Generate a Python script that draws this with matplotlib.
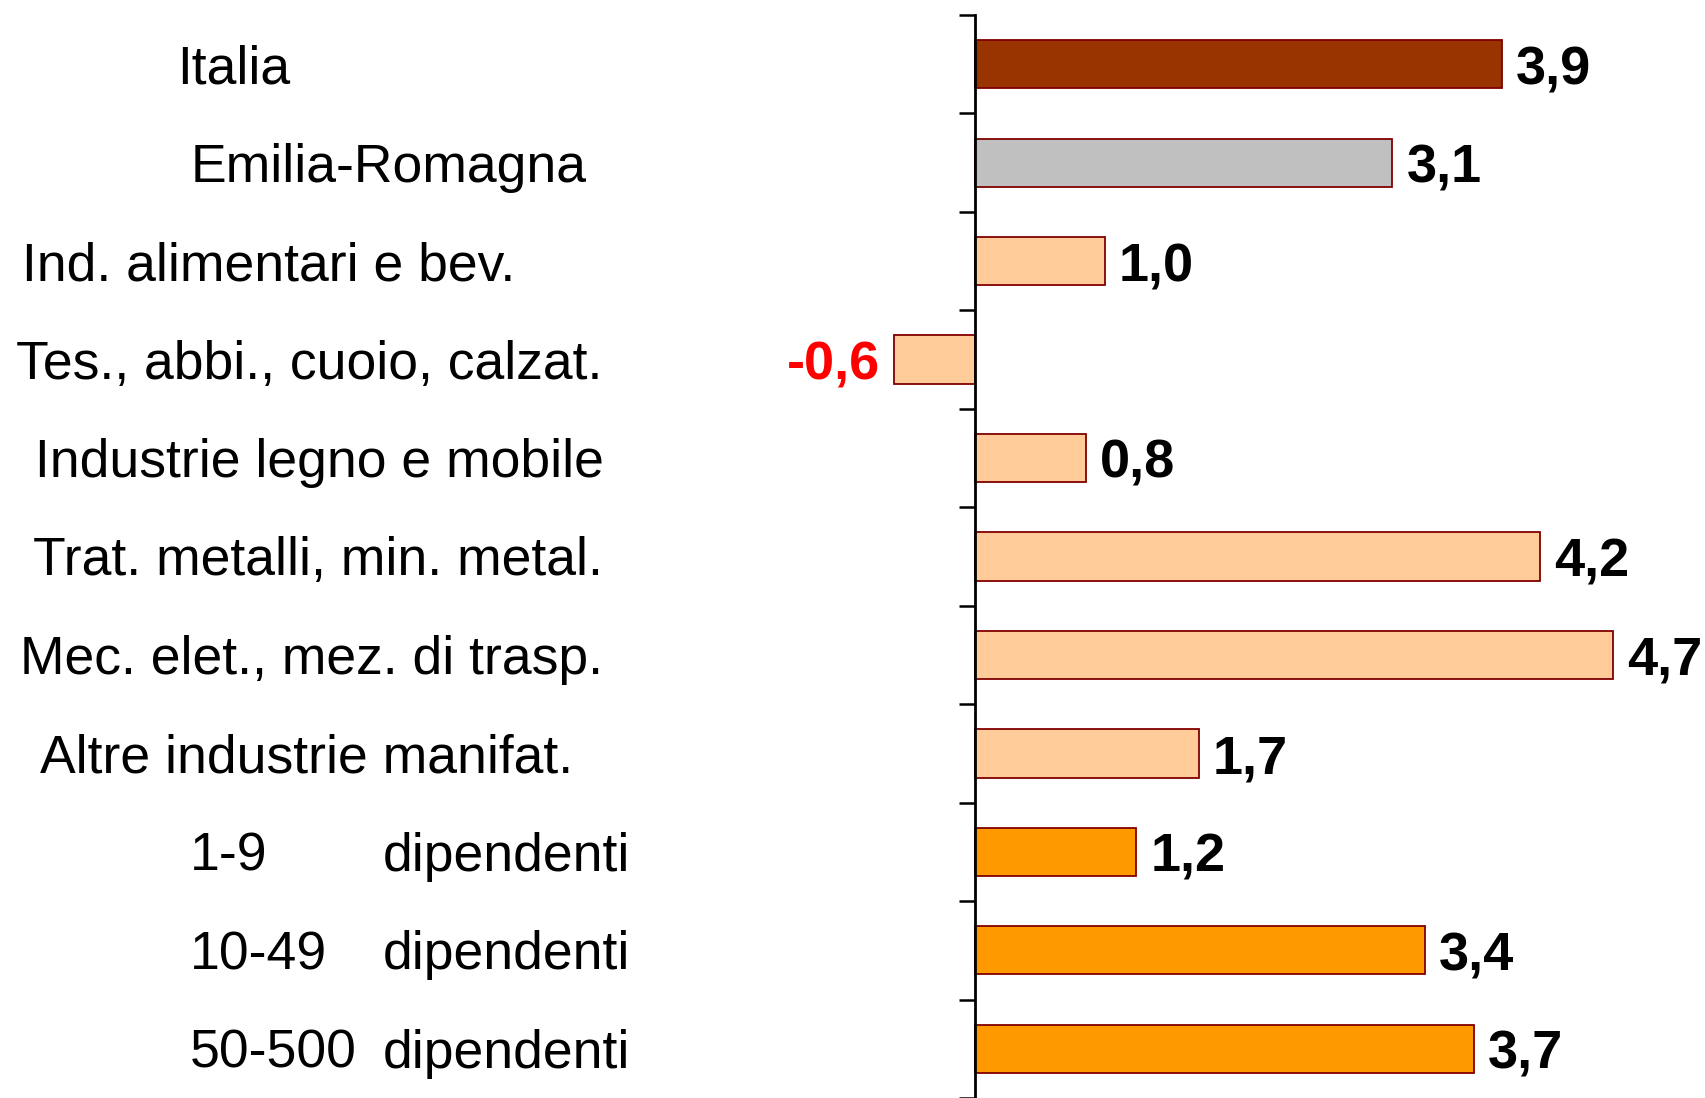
import matplotlib.pyplot as plt
import matplotlib.transforms as mtransforms

# -----------------------------------------------------------------------------
# Data
# -----------------------------------------------------------------------------

categories = ['Italia', 'Emilia-Romagna', 'Ind. alimentari e bev.',
              'Tes., abbi., cuoio, calzat.', 'Industrie legno e mobile',
              'Trat. metalli, min. metal.', 'Mec. elet., mez. di trasp.',
              'Altre industrie manifat.', '1-9', '10-49', '50-500']
# bar lengths
values = [3.89, 3.08, 0.96, -0.6, 0.82, 4.17, 4.71, 1.65, 1.19, 3.32, 3.68]
value_labels = ['3,9', '3,1', '1,0', '-0,6', '0,8', '4,2', '4,7', '1,7', '1,2', '3,4', '3,7']
groups = ['italia', 'regione', 'settore', 'settore', 'settore', 'settore',
          'settore', 'settore', 'classe', 'classe', 'classe']
size_suffix = 'dipendenti'

# left edge of each label, in pixels of the 1706 px wide figure
label_x_px = [177, 191, 22, 16, 35, 33, 20, 40, 190, 190, 190]
suffix_x_px = 383

colors = {'italia': '#993300', 'regione': '#C0C0C0',
          'settore': '#FFCC99', 'classe': '#FF9900'}

W, H = 1706, 1098

plt.rcParams['font.family'] = ['Liberation Sans', 'DejaVu Sans']

fig = plt.figure(figsize=(W / 100, H / 100), dpi=100)
ax = fig.add_axes([0, 0, 1, (H - 15) / H])

n = len(categories)
ypos = list(range(n))
ax.barh(ypos, values, height=0.49,
        color=[colors[g] for g in groups], edgecolor='#800000', linewidth=1.3,
        zorder=2)

# axis placement: zero line at 975 px, 135.5 px per unit
px_per_unit = 135.5
x0 = 975
ax.set_xlim(-x0 / px_per_unit, (W - x0) / px_per_unit)
ax.set_ylim(n - 0.5, -0.5)

for s in ['top', 'right', 'bottom']:
    ax.spines[s].set_visible(False)
ax.spines['left'].set_position(('data', 0))
ax.spines['left'].set_linewidth(2.0)
ax.spines['left'].set_zorder(3)
ax.set_yticks([i - 0.5 for i in range(n + 1)])
ax.set_yticklabels([])
ax.tick_params(axis='y', direction='out', length=11.5, width=1.8)
ax.set_xticks([])

trans = mtransforms.blended_transform_factory(ax.transAxes, ax.transData)
fs = 38.5
vfs = 39
dy = 0.05
for i, cat in enumerate(categories):
    ax.text(label_x_px[i] / W, i + dy, cat, transform=trans, ha='left',
            va='center', fontsize=fs)
    if groups[i] == 'classe':
        ax.text(suffix_x_px / W, i + dy, size_suffix, transform=trans,
                ha='left', va='center', fontsize=fs)

gap = 14 / px_per_unit
for i, (v, lab) in enumerate(zip(values, value_labels)):
    if v >= 0:
        ax.text(v + gap, i + 0.06, lab, ha='left', va='center', fontsize=vfs,
                fontweight='bold', color='black')
    else:
        ax.text(v - gap, i + 0.06, lab, ha='right', va='center', fontsize=vfs,
                fontweight='bold', color='#FF0000')

fig.savefig('out.png', dpi=100)
